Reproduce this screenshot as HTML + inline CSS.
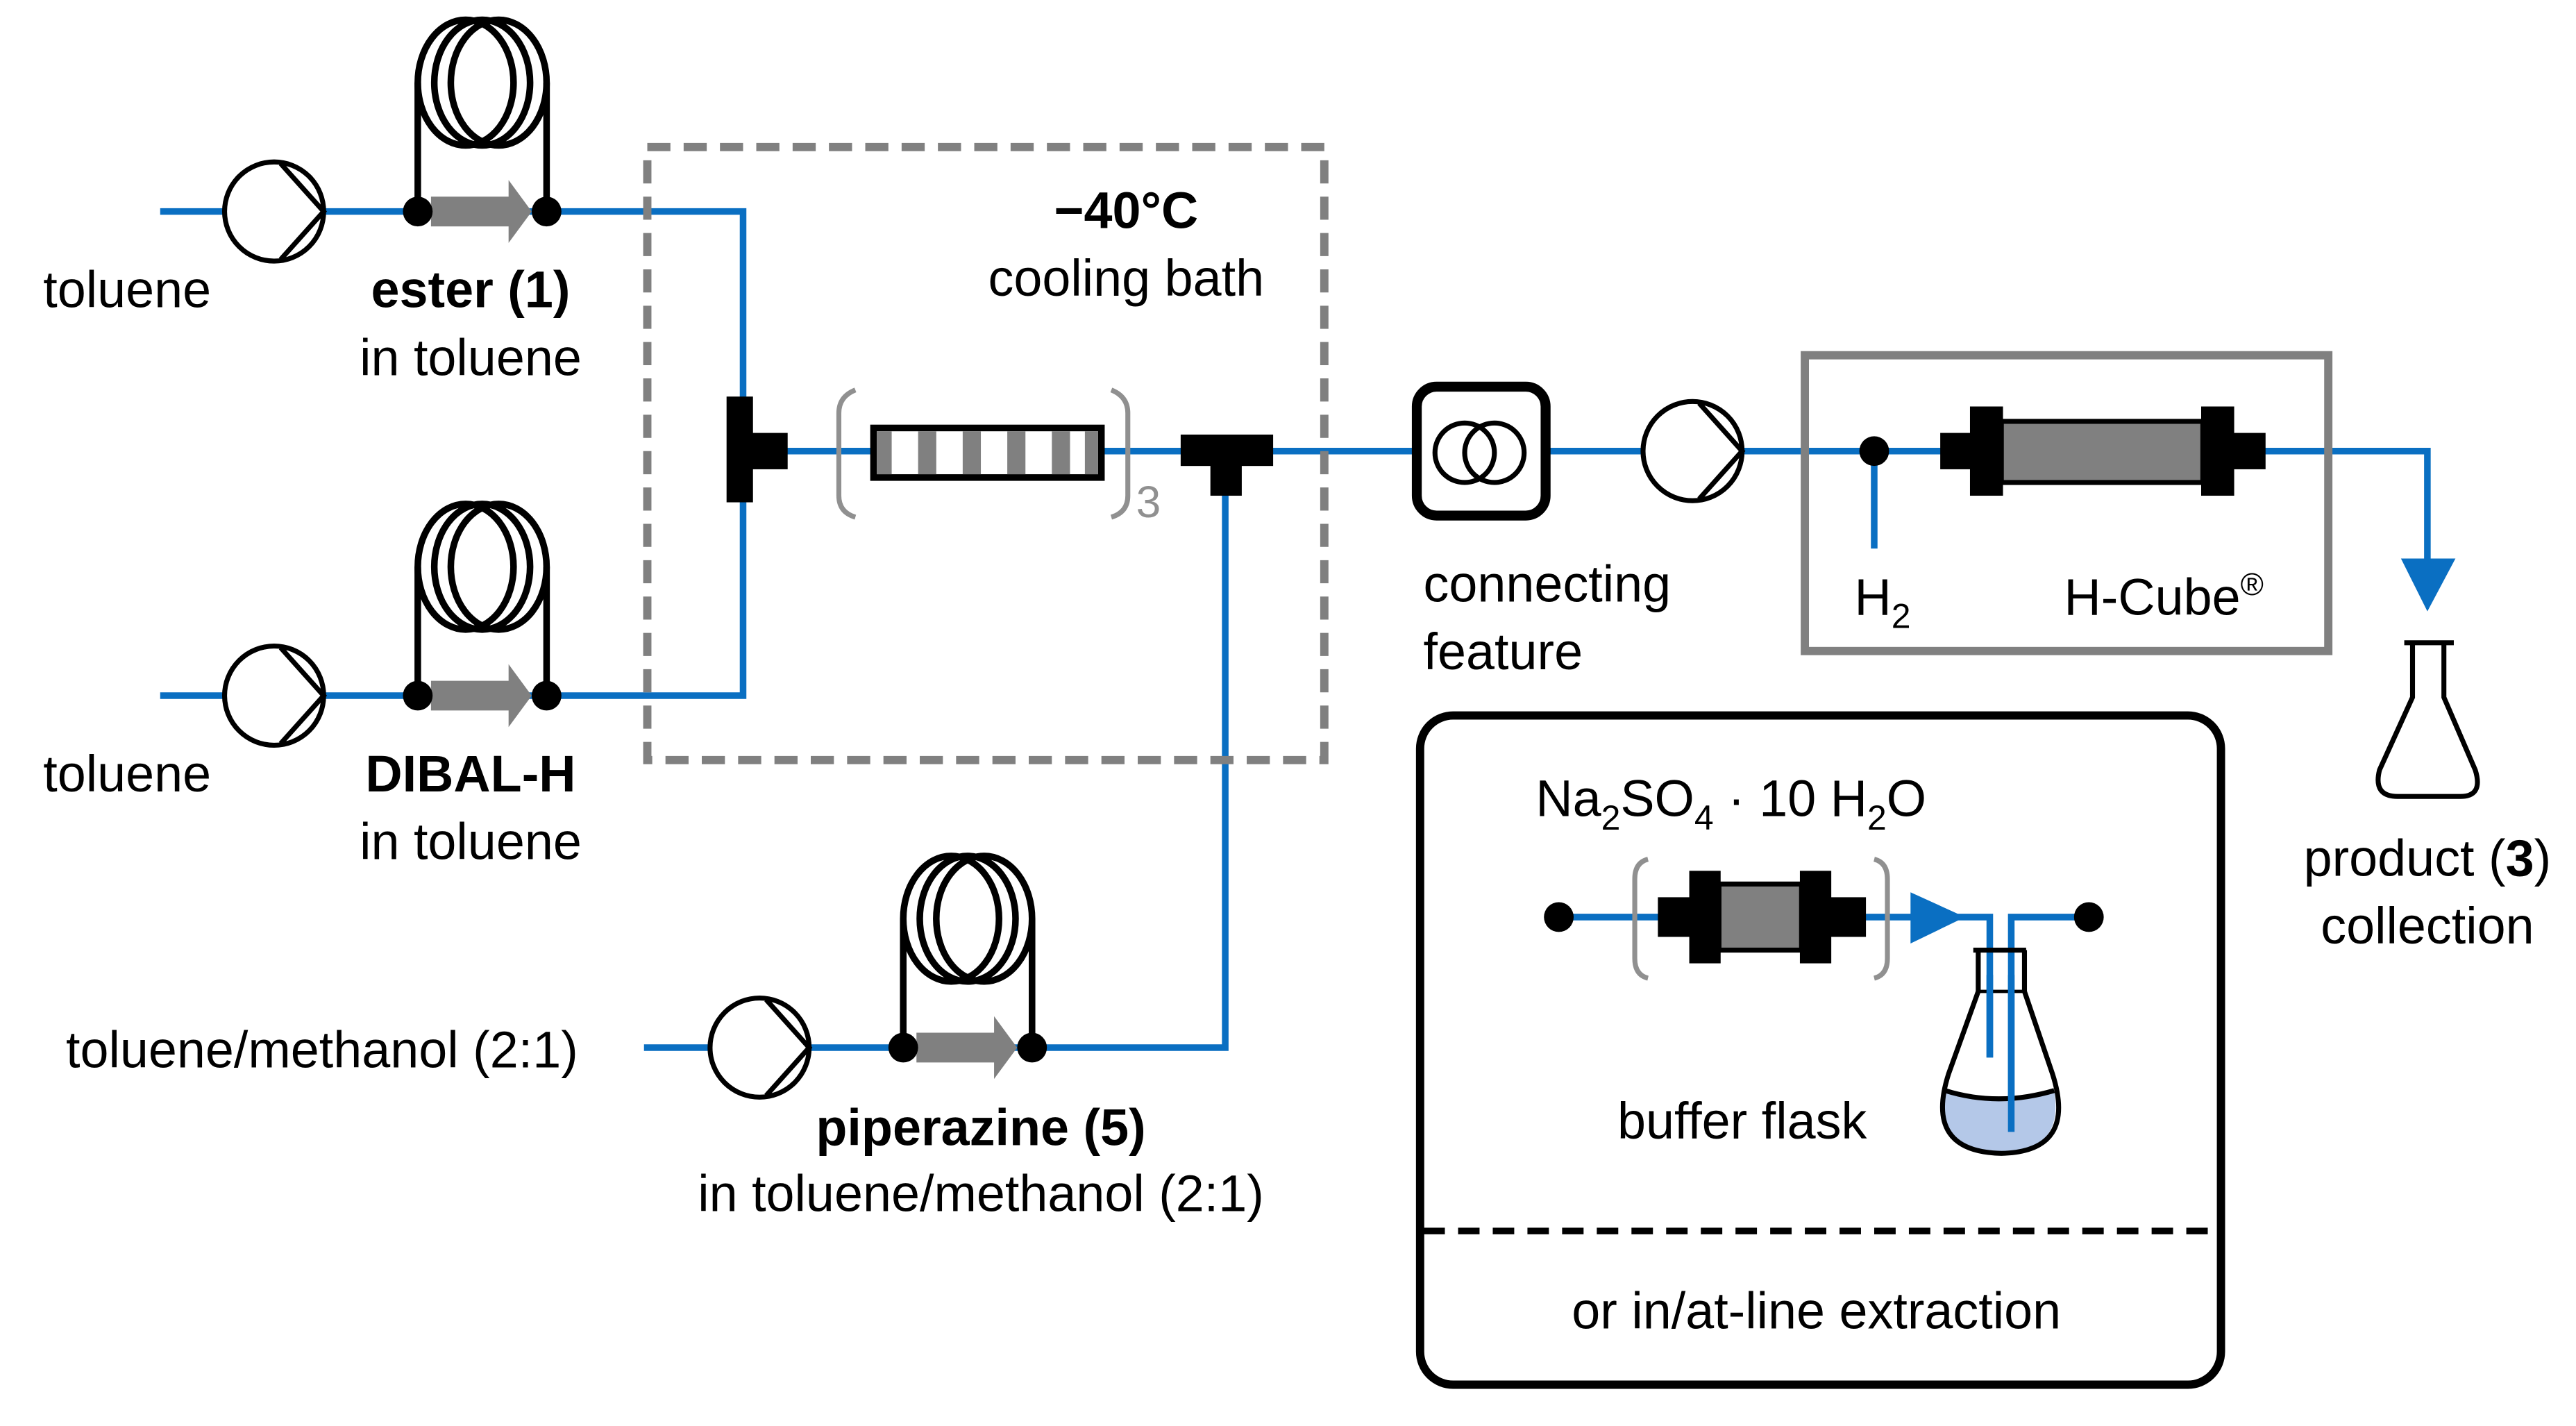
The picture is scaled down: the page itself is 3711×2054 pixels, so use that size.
<!DOCTYPE html>
<html><head><meta charset="utf-8"><style>
html,body{margin:0;padding:0;background:#fff;}
svg{display:block;}
text{font-family:"Liberation Sans",Arial,sans-serif;font-size:31px;fill:#000;}
</style></head><body>
<svg width="3711" height="2054" viewBox="0 0 1560 863" preserveAspectRatio="none" xmlns="http://www.w3.org/2000/svg">
<defs>
<g id="coil">
  <path d="M-39 0 V-78" stroke="#000" stroke-width="4" fill="none"/>
  <path d="M39 0 V-78" stroke="#000" stroke-width="4" fill="none"/>
  <ellipse cx="-10" cy="-78" rx="29" ry="38" stroke="#000" stroke-width="4" fill="none"/>
  <ellipse cx="0" cy="-78" rx="29" ry="38" stroke="#000" stroke-width="4" fill="none"/>
  <ellipse cx="10" cy="-78" rx="29" ry="38" stroke="#000" stroke-width="4" fill="none"/>
  <path d="M-31 -9 H16 V-19 L30 0 L16 19 V9 H-31 Z" fill="#808080"/>
  <circle cx="-39" cy="0" r="9" fill="#000"/>
  <circle cx="39" cy="0" r="9" fill="#000"/>
</g>
<g id="pump">
  <circle cx="0" cy="0" r="30" fill="#fff" stroke="#000" stroke-width="3"/>
  <path d="M4 -29 L30 0 L4 29" fill="none" stroke="#000" stroke-width="3"/>
</g>
</defs>
<g stroke="#0a6fc2" stroke-width="4" fill="none">
  <path d="M97 128 H450 V250"/>
  <path d="M97 421 H450 V300"/>
  <path d="M470 273 H1470 V345"/>
  <path d="M390 634 H742 V290"/>
  <path d="M1135 273 V332"/>
</g>
<rect x="392" y="89" width="410" height="371" fill="none" stroke="#808080" stroke-width="5" stroke-dasharray="14,8"/>
<use href="#pump" x="166" y="128"/>
<use href="#pump" x="166" y="421"/>
<use href="#pump" x="460" y="634"/>
<use href="#pump" x="1025" y="273"/>
<use href="#coil" x="292" y="128"/>
<use href="#coil" x="292" y="421"/>
<use href="#coil" x="586" y="634"/>
<rect x="440" y="240" width="16" height="64" fill="#000"/>
<rect x="455" y="262" width="22" height="22" fill="#000"/>
<path d="M518 236 Q508 240 508 250 V300 Q508 310 518 313" fill="none" stroke="#909090" stroke-width="3"/>
<path d="M673 236 Q683 240 683 250 V300 Q683 310 673 313" fill="none" stroke="#909090" stroke-width="3"/>
<text x="688" y="313" style="fill:#909090;font-size:27px">3</text>
<rect x="529" y="259" width="138" height="30" fill="#fff" stroke="#000" stroke-width="4"/>
<g fill="#808080"><rect x="531" y="261" width="9" height="26"/><rect x="556" y="261" width="11" height="26"/><rect x="583" y="261" width="11" height="26"/><rect x="610" y="261" width="11" height="26"/><rect x="637" y="261" width="11" height="26"/><rect x="657" y="261" width="8" height="26"/></g>
<rect x="715" y="263" width="56" height="19" fill="#000"/>
<rect x="733" y="280" width="19" height="20" fill="#000"/>
<rect x="858" y="234" width="78" height="78" rx="12" fill="#fff" stroke="#000" stroke-width="6"/>
<circle cx="887" cy="274" r="18" fill="none" stroke="#000" stroke-width="3"/>
<circle cx="905" cy="274" r="18" fill="none" stroke="#000" stroke-width="3"/>
<rect x="1093" y="215" width="317" height="179" fill="none" stroke="#808080" stroke-width="5"/>
<circle cx="1135" cy="273" r="9" fill="#000"/>
<rect x="1175" y="262" width="20" height="22" fill="#000"/>
<rect x="1193" y="246" width="20" height="54" fill="#000"/>
<rect x="1212" y="255" width="122" height="37" fill="#808080" stroke="#000" stroke-width="3"/>
<rect x="1333" y="246" width="20" height="54" fill="#000"/>
<rect x="1352" y="262" width="20" height="22" fill="#000"/>
<path d="M1454 338 H1487 L1470 370 Z" fill="#0a6fc2"/>
<path d="M1456 389 H1486 M1461 389 V422 L1441 466 Q1437 482 1452 482 H1490 Q1504 482 1499 466 L1480 422 V389" fill="none" stroke="#000" stroke-width="3"/>
<rect x="860" y="433" width="485" height="405" rx="20" fill="none" stroke="#000" stroke-width="5"/>
<path d="M862 745 H1343" stroke="#000" stroke-width="4" stroke-dasharray="13,8"/>
<g stroke="#0a6fc2" stroke-width="4" fill="none">
  <path d="M944 555 H1205 V640"/>
  <path d="M1265 555 H1218 V685"/>
</g>
<circle cx="944" cy="555" r="9" fill="#000"/>
<circle cx="1265" cy="555" r="9" fill="#000"/>
<path d="M998 520 Q990 522 990 532 V580 Q990 590 998 592" fill="none" stroke="#909090" stroke-width="3"/>
<path d="M1135 520 Q1143 522 1143 532 V580 Q1143 590 1135 592" fill="none" stroke="#909090" stroke-width="3"/>
<rect x="1004" y="543" width="22" height="24" fill="#000"/>
<rect x="1023" y="527" width="19" height="56" fill="#000"/>
<rect x="1041" y="535" width="50" height="40" fill="#808080" stroke="#000" stroke-width="3"/>
<rect x="1090" y="527" width="19" height="56" fill="#000"/>
<rect x="1108" y="543" width="22" height="24" fill="#000"/>
<path d="M1157 540 L1190 555 L1157 571 Z" fill="#0a6fc2"/>
<path d="M1178 660 Q1210 670 1244 660 Q1250 697 1212 698 Q1172 697 1178 660 Z" fill="#b4c8e8"/>
<path d="M1195 575 H1227 M1198 575 L1198 600 L1180 650 Q1165 697 1212 698 Q1258 697 1243 650 L1226 600 L1226 575" fill="none" stroke="#000" stroke-width="3"/>
<path d="M1178 660 Q1210 670 1244 660" fill="none" stroke="#000" stroke-width="3"/>
<path d="M1198 600 H1226" stroke="#000" stroke-width="2"/>
<g stroke="#0a6fc2" stroke-width="4"><path d="M1205 590 V640"/><path d="M1218 590 V685"/></g>
<text x="77" y="186" text-anchor="middle">toluene</text>
<text x="285" y="186" text-anchor="middle" font-weight="bold">ester (1)</text>
<text x="285" y="227" text-anchor="middle">in toluene</text>
<text x="77" y="479" text-anchor="middle">toluene</text>
<text x="285" y="479" text-anchor="middle" font-weight="bold">DIBAL-H</text>
<text x="285" y="520" text-anchor="middle">in toluene</text>
<text x="682" y="138" text-anchor="middle" font-weight="bold">−40°C</text>
<text x="682" y="179" text-anchor="middle">cooling bath</text>
<text x="195" y="646" text-anchor="middle">toluene/methanol (2:1)</text>
<text x="594" y="693" text-anchor="middle" font-weight="bold">piperazine (5)</text>
<text x="594" y="733" text-anchor="middle">in toluene/methanol (2:1)</text>
<text x="862" y="364">connecting</text>
<text x="862" y="405">feature</text>
<text x="1123" y="372">H<tspan font-size="21" dy="8">2</tspan></text>
<text x="1250" y="372">H-Cube<tspan font-size="19" dy="-12">®</tspan></text>
<text x="1470" y="530" text-anchor="middle">product (<tspan font-weight="bold">3</tspan>)</text>
<text x="1470" y="571" text-anchor="middle">collection</text>
<text x="930" y="494">Na<tspan font-size="21" dy="8">2</tspan><tspan dy="-8">SO</tspan><tspan font-size="21" dy="8">4</tspan><tspan dy="-8"> · 10 H</tspan><tspan font-size="21" dy="8">2</tspan><tspan dy="-8">O</tspan></text>
<text x="1055" y="689" text-anchor="middle">buffer flask</text>
<text x="1100" y="804" text-anchor="middle">or in/at-line extraction</text>
</svg>
</body></html>
